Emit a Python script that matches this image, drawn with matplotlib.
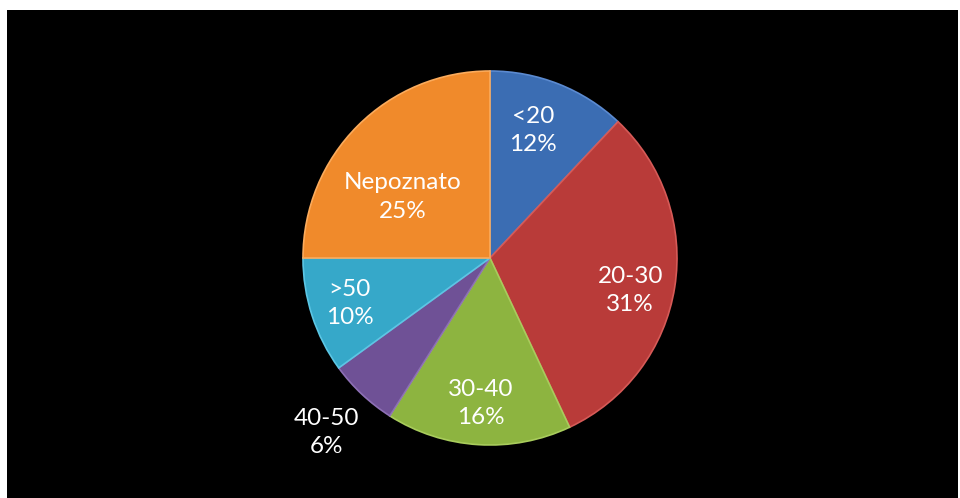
import numpy as np
import matplotlib.pyplot as plt

# donnees du graphique
categories = ["<20", "20-30", "30-40", "40-50", ">50", "Nepoznato"]
values = [12, 31, 16, 6, 10, 25]
pct_labels = ["12%", "31%", "16%", "6%", "10%", "25%"]

colors = ["#3b6db3", "#b93b39", "#8db440", "#6f5196", "#36a8c9", "#f08a2b"]
edge_colors = ["#5b8ad0", "#d65a57", "#a8cc5c", "#8d70b5", "#5cc6e4", "#fbab5c"]
label_dist = [0.72, 0.77, 0.78, 1.28, 0.79, 0.57]
label_angle_shift = [3, -4, 0, 0, 0, 10]

plt.rcParams["font.family"] = ["Lato", "DejaVu Sans"]

fig = plt.figure(figsize=(9.6, 4.98), dpi=100, facecolor="white")
bg = fig.add_axes([7 / 960, 0, 951 / 960, 488 / 498])
bg.set_facecolor("black")
bg.set_xticks([])
bg.set_yticks([])
for s in bg.spines.values():
    s.set_visible(False)

# pie : centre (490, 258), rayon 187 px
r_px = 187
cx, cy = 490, 498 - 258
ax = fig.add_axes([(cx - r_px) / 960, (cy - r_px) / 498, 2 * r_px / 960, 2 * r_px / 498])
ax.set_facecolor("none")
ax.axis("off")

wedges, _ = ax.pie(values, colors=colors, startangle=90, counterclock=False,
                   radius=1.0, wedgeprops=dict(linewidth=1.2))
for w, ec in zip(wedges, edge_colors):
    w.set_edgecolor(ec)
ax.set_xlim(-1, 1)
ax.set_ylim(-1, 1)
ax.set_aspect("auto")

for w, cat, pct, d, sh in zip(wedges, categories, pct_labels, label_dist, label_angle_shift):
    ang = np.deg2rad((w.theta1 + w.theta2) / 2 + sh)
    x = d * np.cos(ang)
    y = d * np.sin(ang)
    ax.text(x, y, cat + "\n" + pct, ha="center", va="center", color="white",
            fontsize=17.5, linespacing=1.45, clip_on=False)

fig.savefig("out.png", dpi=100, facecolor="white")
